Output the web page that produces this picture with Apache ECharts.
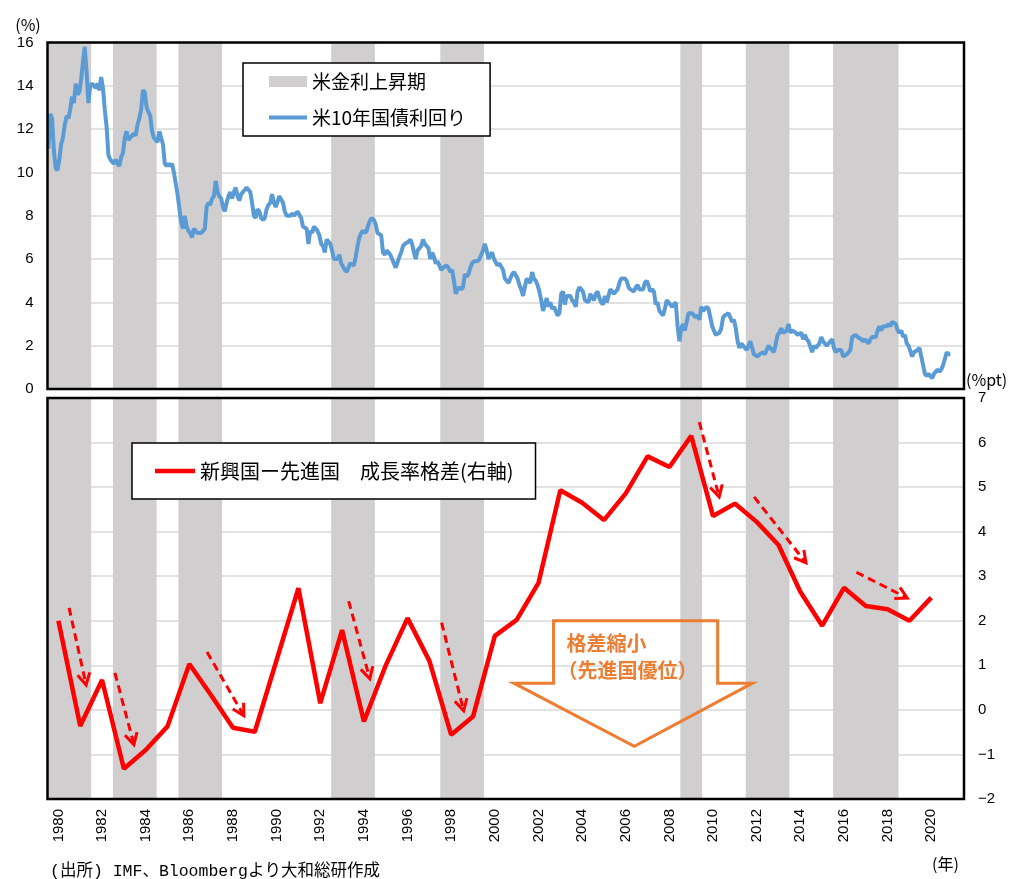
<!DOCTYPE html>
<html>
<head>
<meta charset="utf-8">
<script src="https://cdn.jsdelivr.net/npm/echarts@6/dist/echarts.min.js"></script>
<style>
  html, body { margin: 0; padding: 0; background: #fff; }
  #chart { width: 1011px; height: 879px; }
</style>
</head>
<body>
<div id="chart"></div>
<script>
// annual emerging - advanced growth gap (%pt)
const years = [1980, 1981, 1982, 1983, 1984, 1985, 1986, 1987, 1988, 1989,
  1990, 1991, 1992, 1993, 1994, 1995, 1996, 1997, 1998, 1999,
  2000, 2001, 2002, 2003, 2004, 2005, 2006, 2007, 2008, 2009,
  2010, 2011, 2012, 2013, 2014, 2015, 2016, 2017, 2018, 2019, 2020];
const growthGap = [2.0, -0.36, 0.67, -1.32, -0.9, -0.37, 1.03, 0.33, -0.4, -0.49,
  1.12, 2.73, 0.15, 1.79, -0.26, 1.0, 2.06, 1.1, -0.56, -0.15,
  1.66, 2.02, 2.85, 4.93, 4.65, 4.26, 4.86, 5.69, 5.45, 6.15,
  4.35, 4.63, 4.22, 3.7, 2.65, 1.89, 2.74, 2.33, 2.26, 2.0, 2.52];

// years shaded as US rate rising periods
const hikeYears = [1980, 1981, 1983, 1984, 1986, 1987, 1993, 1994, 1998, 1999,
  2009, 2012, 2013, 2016, 2017, 2018];

// US 10y treasury yield, monthly from Jan 1980 (%)
const yieldStartYear = 1980;
const yieldMonthly = [
  11.1, 12.7, 12.5, 11.0, 10.2, 10.1, 10.6, 11.3, 11.6, 12.2, 12.6, 12.5, // 1980
  12.9, 13.5, 13.2, 14.1, 13.6, 13.7, 14.3, 15.1, 15.8, 14.6, 13.2, 14.0, // 1981
  14.1, 14.1, 13.9, 14.1, 13.8, 14.4, 13.9, 12.9, 12.1, 10.8, 10.6, 10.5, // 1982
  10.4, 10.6, 10.4, 10.3, 10.7, 10.9, 11.6, 11.9, 11.5, 11.6, 11.7, 11.8, // 1983
  11.7, 12.2, 12.5, 12.9, 13.8, 13.7, 13.0, 12.8, 12.6, 11.9, 11.6, 11.5, // 1984
  11.4, 11.9, 11.6, 11.3, 10.4, 10.3, 10.4, 10.3, 10.4, 10.0, 9.5, 9.0,   // 1985
  9.0, 7.7, 7.4, 8.0, 7.5, 7.3, 7.2, 7.0, 7.4, 7.3, 7.2, 7.2,             // 1986
  7.2, 7.3, 7.4, 8.4, 8.6, 8.5, 8.8, 8.9, 9.6, 9.1, 8.9, 8.8,             // 1987
  8.4, 8.2, 8.6, 8.9, 9.1, 8.8, 9.1, 9.3, 8.9, 8.7, 9.0, 9.1,             // 1988
  9.1, 9.3, 9.3, 9.1, 8.6, 8.0, 7.9, 8.3, 8.2, 7.9, 7.8, 7.9,             // 1989
  8.3, 8.5, 8.6, 9.0, 8.6, 8.4, 8.4, 8.9, 8.9, 8.6, 8.2, 8.0,             // 1990
  8.0, 8.0, 8.1, 8.0, 8.1, 8.2, 8.2, 7.9, 7.5, 7.5, 7.4, 6.7,             // 1991
  7.3, 7.2, 7.5, 7.5, 7.3, 7.1, 6.7, 6.6, 6.3, 6.9, 6.9, 6.7,             // 1992
  6.4, 6.0, 6.0, 6.0, 6.2, 5.8, 5.8, 5.5, 5.4, 5.4, 5.8, 5.8,             // 1993
  5.7, 6.1, 6.6, 7.0, 7.2, 7.3, 7.2, 7.3, 7.6, 7.8, 7.9, 7.8,             // 1994
  7.6, 7.2, 7.2, 7.1, 6.3, 6.2, 6.4, 6.3, 6.2, 6.0, 5.8, 5.6,             // 1995
  5.6, 6.1, 6.3, 6.6, 6.7, 6.7, 6.8, 6.9, 6.7, 6.3, 6.0, 6.4,             // 1996
  6.5, 6.6, 6.9, 6.7, 6.6, 6.5, 6.0, 6.3, 6.1, 5.8, 5.9, 5.7,             // 1997
  5.5, 5.6, 5.6, 5.7, 5.6, 5.4, 5.5, 5.0, 4.4, 4.6, 4.7, 4.6,             // 1998
  4.7, 5.3, 5.2, 5.3, 5.6, 5.8, 5.9, 5.9, 5.9, 6.0, 6.2, 6.4,             // 1999
  6.7, 6.4, 6.0, 6.2, 6.3, 6.0, 6.0, 5.7, 5.8, 5.8, 5.5, 5.1,             // 2000
  5.1, 4.9, 4.9, 5.3, 5.4, 5.4, 5.1, 4.8, 4.6, 4.3, 4.7, 5.1,             // 2001
  5.0, 4.9, 5.4, 5.1, 5.0, 4.8, 4.5, 4.1, 3.6, 3.9, 4.2, 3.8,             // 2002
  4.0, 3.7, 3.8, 3.8, 3.4, 3.5, 4.4, 4.5, 3.9, 4.3, 4.3, 4.3,             // 2003
  4.1, 4.0, 3.8, 4.5, 4.7, 4.6, 4.5, 4.1, 4.1, 4.0, 4.4, 4.2,             // 2004
  4.1, 4.4, 4.5, 4.2, 4.0, 3.9, 4.3, 4.0, 4.3, 4.6, 4.5, 4.4,             // 2005
  4.5, 4.6, 4.9, 5.1, 5.1, 5.1, 5.0, 4.7, 4.6, 4.6, 4.5, 4.7,             // 2006
  4.8, 4.6, 4.6, 4.6, 4.9, 5.0, 4.8, 4.5, 4.6, 4.5, 3.9, 4.0,             // 2007
  3.6, 3.5, 3.4, 3.7, 4.1, 4.0, 4.0, 3.8, 3.8, 4.0, 2.9, 2.2,             // 2008
  2.8, 3.0, 2.7, 3.1, 3.5, 3.5, 3.5, 3.4, 3.3, 3.4, 3.2, 3.8,             // 2009
  3.6, 3.6, 3.8, 3.7, 3.3, 2.9, 2.9, 2.5, 2.5, 2.6, 2.8, 3.3,             // 2010
  3.4, 3.4, 3.5, 3.3, 3.1, 3.2, 2.8, 2.2, 1.9, 2.1, 2.1, 1.9,             // 2011
  1.8, 2.0, 2.2, 1.9, 1.6, 1.6, 1.5, 1.6, 1.6, 1.7, 1.6, 1.8,             // 2012
  2.0, 1.9, 1.9, 1.7, 2.1, 2.5, 2.6, 2.8, 2.6, 2.6, 2.7, 3.0,             // 2013
  2.6, 2.7, 2.7, 2.6, 2.5, 2.5, 2.6, 2.3, 2.5, 2.3, 2.2, 2.2,             // 2014
  1.7, 2.0, 1.9, 2.0, 2.1, 2.4, 2.2, 2.2, 2.0, 2.1, 2.2, 2.3,             // 2015
  1.9, 1.7, 1.8, 1.8, 1.8, 1.5, 1.5, 1.6, 1.6, 1.8, 2.4, 2.4,             // 2016
  2.5, 2.4, 2.4, 2.3, 2.2, 2.3, 2.3, 2.1, 2.3, 2.4, 2.4, 2.4,             // 2017
  2.7, 2.9, 2.7, 2.9, 2.9, 2.9, 3.0, 2.9, 3.1, 3.1, 3.0, 2.7,             // 2018
  2.6, 2.7, 2.4, 2.5, 2.1, 2.0, 2.0, 1.5, 1.7, 1.7, 1.8, 1.9,             // 2019
  1.5, 1.1, 0.7, 0.6, 0.7, 0.7, 0.5, 0.7, 0.7, 0.9, 0.8, 0.9,             // 2020
  1.1, 1.4, 1.7, 1.6, 1.6                                                 // 2021
];

// x axis tick labels
const xTickYears = [1980, 1982, 1984, 1986, 1988, 1990, 1992, 1994, 1996, 1998,
  2000, 2002, 2004, 2006, 2008, 2010, 2012, 2014, 2016, 2018, 2020];

// dashed trend arrows on the lower panel, [from, to] in (year, %pt)
const trendArrows = [
  [[1980.49, 2.29], [1981.27, 0.56]],
  [[1982.59, 0.83], [1983.46, -0.78]],
  [[1986.81, 1.3], [1988.5, -0.13]],
  [[1993.3, 2.44], [1994.27, 0.7]],
  [[1997.56, 1.96], [1998.57, -0.02]],
  [[2009.37, 6.46], [2010.28, 4.78]],
  [[2011.88, 4.78], [2014.26, 3.3]],
  [[2016.57, 3.09], [2018.9, 2.51]],
];

// big hollow arrow outline, (year, %pt)
const gapArrow = [[2002.69, 2.0], [2010.21, 2.0], [2010.21, 0.6], [2011.81, 0.6],
  [2006.39, -0.82], [2000.87, 0.6], [2002.69, 0.6]];

const JP = "'Noto Sans CJK JP', sans-serif";
const NUM = "'Liberation Sans', Arial, sans-serif";
const SHADE = '#D0CECE';
const GRID_LINE = '#D9D9D9';
const BLUE = '#5B9BD5';
const RED = '#FF0000';

const topGrid = { left: 47.5, top: 42.5, width: 916.5, height: 346.5 };
const botGrid = { left: 47.5, top: 398, width: 916.5, height: 401 };

function hikeAreas() {
  const out = [];
  hikeYears.forEach(y => {
    const last = out[out.length - 1];
    if (last && last[1] === y - 0.5) last[1] = y + 0.5;
    else out.push([y - 0.5, y + 0.5]);
  });
  return out.map(r => [{ xAxis: r[0] }, { xAxis: r[1] }]);
}

const yieldData = yieldMonthly.map((v, i) => [yieldStartYear - 0.5 + (i + 0.5) / 12, v]);
const gapData = years.map((y, i) => [y, growthGap[i]]);

const chart = echarts.init(document.getElementById('chart'));

const option = {
  animation: false,
  backgroundColor: '#fff',
  grid: [
    Object.assign({ containLabel: false }, topGrid),
    Object.assign({ containLabel: false }, botGrid),
  ],
  xAxis: [
    {
      gridIndex: 0, type: 'value', min: 1979.5, max: 2021.5,
      axisLine: { show: false }, axisTick: { show: false },
      axisLabel: { show: false }, splitLine: { show: false },
    },
    {
      gridIndex: 1, type: 'value', min: 1979.5, max: 2021.5,
      axisLine: { show: false }, axisTick: { show: false },
      splitLine: { show: false },
      axisLabel: {
        customValues: xTickYears,
        formatter: v => String(v),
        rotate: 90,
        margin: 10,
        fontSize: 15,
        color: '#000',
        fontFamily: NUM,
      },
    },
  ],
  yAxis: [
    {
      gridIndex: 0, type: 'value', min: 0, max: 16, interval: 2, position: 'left',
      axisLine: { show: false }, axisTick: { show: false },
      axisLabel: { fontSize: 15, color: '#000', fontFamily: NUM, margin: 14 },
      splitLine: { lineStyle: { color: GRID_LINE, width: 1.5 } },
    },
    {
      gridIndex: 1, type: 'value', min: -2, max: 7, interval: 1, position: 'right',
      axisLine: { show: false }, axisTick: { show: false },
      axisLabel: {
        fontSize: 15, color: '#000', fontFamily: NUM, margin: 14,
        formatter: v => String(v).replace('-', '\u2212'),
      },
      splitLine: { lineStyle: { color: GRID_LINE, width: 1.5 } },
    },
  ],
  legend: [
    {
      data: [
        { name: '米金利上昇期', icon: 'rect' },
        { name: '米10年国債利回り', icon: 'path://M0,0H38V4H0Z' },
      ],
      orient: 'vertical',
      left: 243, top: 63,
      itemWidth: 38, itemHeight: 11, itemGap: 17,
      padding: [9, 24, 9, 26],
      borderColor: '#000', borderWidth: 1.5, backgroundColor: '#fff',
      textStyle: { fontSize: 19, color: '#000', fontFamily: JP },
      selectedMode: false,
    },
    {
      data: [{ name: '新興国ー先進国　成長率格差(右軸)', icon: 'rect' }],
      left: 132, top: 443,
      itemWidth: 40, itemHeight: 4.5,
      padding: [18, 22, 18, 23],
      borderColor: '#000', borderWidth: 1.5, backgroundColor: '#fff',
      textStyle: { fontSize: 20, color: '#000', fontFamily: JP },
      selectedMode: false,
    },
  ],
  series: [
    {
      name: '米金利上昇期', type: 'bar', xAxisIndex: 0, yAxisIndex: 0,
      data: [], color: SHADE, z: 1,
      markArea: { silent: true, itemStyle: { color: SHADE, opacity: 1 }, data: hikeAreas() },
    },
    {
      name: 'shade-lower', type: 'bar', xAxisIndex: 1, yAxisIndex: 1,
      data: [], color: SHADE, z: 1,
      markArea: { silent: true, itemStyle: { color: SHADE, opacity: 1 }, data: hikeAreas() },
    },
    {
      name: '米10年国債利回り', type: 'line', xAxisIndex: 0, yAxisIndex: 0,
      data: yieldData, symbol: 'none', color: BLUE, z: 3,
      lineStyle: { width: 4, color: BLUE },
    },
    {
      name: '新興国ー先進国　成長率格差(右軸)', type: 'line', xAxisIndex: 1, yAxisIndex: 1,
      data: gapData, symbol: 'none', color: RED, z: 3,
      lineStyle: { width: 4.5, color: RED },
    },
  ],
};

chart.setOption(option);

function buildGraphics() {
  const toPx = p => chart.convertToPixel({ xAxisIndex: 1, yAxisIndex: 1 }, p);
  const els = [];

  // plot frames
  [topGrid, botGrid].forEach(g => {
    els.push({
      type: 'rect', z: 100, silent: true,
      shape: { x: g.left, y: g.top, width: g.width, height: g.height },
      style: { fill: null, stroke: '#000', lineWidth: 2.5 },
    });
  });

  // dashed trend arrows
  trendArrows.forEach(([a, b]) => {
    const p0 = toPx(a), p1 = toPx(b);
    const dx = p1[0] - p0[0], dy = p1[1] - p0[1];
    const len = Math.hypot(dx, dy);
    const ux = dx / len, uy = dy / len;
    const head = 13, ang = 0.5;
    const c = Math.cos(ang), s = Math.sin(ang);
    const l1 = [p1[0] - head * (ux * c - uy * s), p1[1] - head * (uy * c + ux * s)];
    const l2 = [p1[0] - head * (ux * c + uy * s), p1[1] - head * (uy * c - ux * s)];
    els.push({
      type: 'line', z: 90, silent: true,
      shape: { x1: p0[0], y1: p0[1], x2: p1[0] - ux * 2, y2: p1[1] - uy * 2 },
      style: { stroke: RED, lineWidth: 3, lineDash: [8, 5] },
    });
    els.push({
      type: 'polyline', z: 90, silent: true,
      shape: { points: [l1, p1, l2] },
      style: { stroke: RED, lineWidth: 3, fill: null },
    });
  });

  // hollow orange arrow
  els.push({
    type: 'polygon', z: 90, silent: true,
    shape: { points: gapArrow.map(toPx) },
    style: { fill: null, stroke: '#ED7D31', lineWidth: 3 },
  });
  const t1 = toPx([2003.28, 1.5]);
  const t2 = toPx([2002.87, 0.88]);
  els.push({
    type: 'text', z: 91, silent: true, x: t1[0], y: t1[1],
    style: { text: '格差縮小', fill: '#ED7D31', font: `bold 20px ${JP}`, verticalAlign: 'middle' },
  });
  els.push({
    type: 'text', z: 91, silent: true, x: t2[0], y: t2[1],
    style: { text: '（先進国優位）', fill: '#ED7D31', font: `bold 20px ${JP}`, verticalAlign: 'middle' },
  });

  // unit and source texts
  els.push({
    type: 'text', z: 91, silent: true, x: 28, y: 25,
    style: { text: '(%)', fill: '#000', font: `16px ${JP}`, align: 'center', verticalAlign: 'middle' },
  });
  els.push({
    type: 'text', z: 91, silent: true, x: 966, y: 380,
    style: { text: '(%pt)', fill: '#000', font: `16px ${JP}`, verticalAlign: 'middle' },
  });
  els.push({
    type: 'text', z: 91, silent: true, x: 932, y: 864,
    style: { text: '(年)', fill: '#000', font: `16px ${JP}`, verticalAlign: 'middle' },
  });
  els.push({
    type: 'text', z: 91, silent: true, x: 50, y: 872,
    style: {
      text: '(出所) IMF、Bloombergより大和総研作成', fill: '#000',
      font: `16.5px 'Liberation Mono', 'Noto Sans CJK JP', monospace`, verticalAlign: 'middle',
    },
  });
  return els;
}

chart.setOption({ graphic: { elements: buildGraphics() } });
</script>
</body>
</html>
